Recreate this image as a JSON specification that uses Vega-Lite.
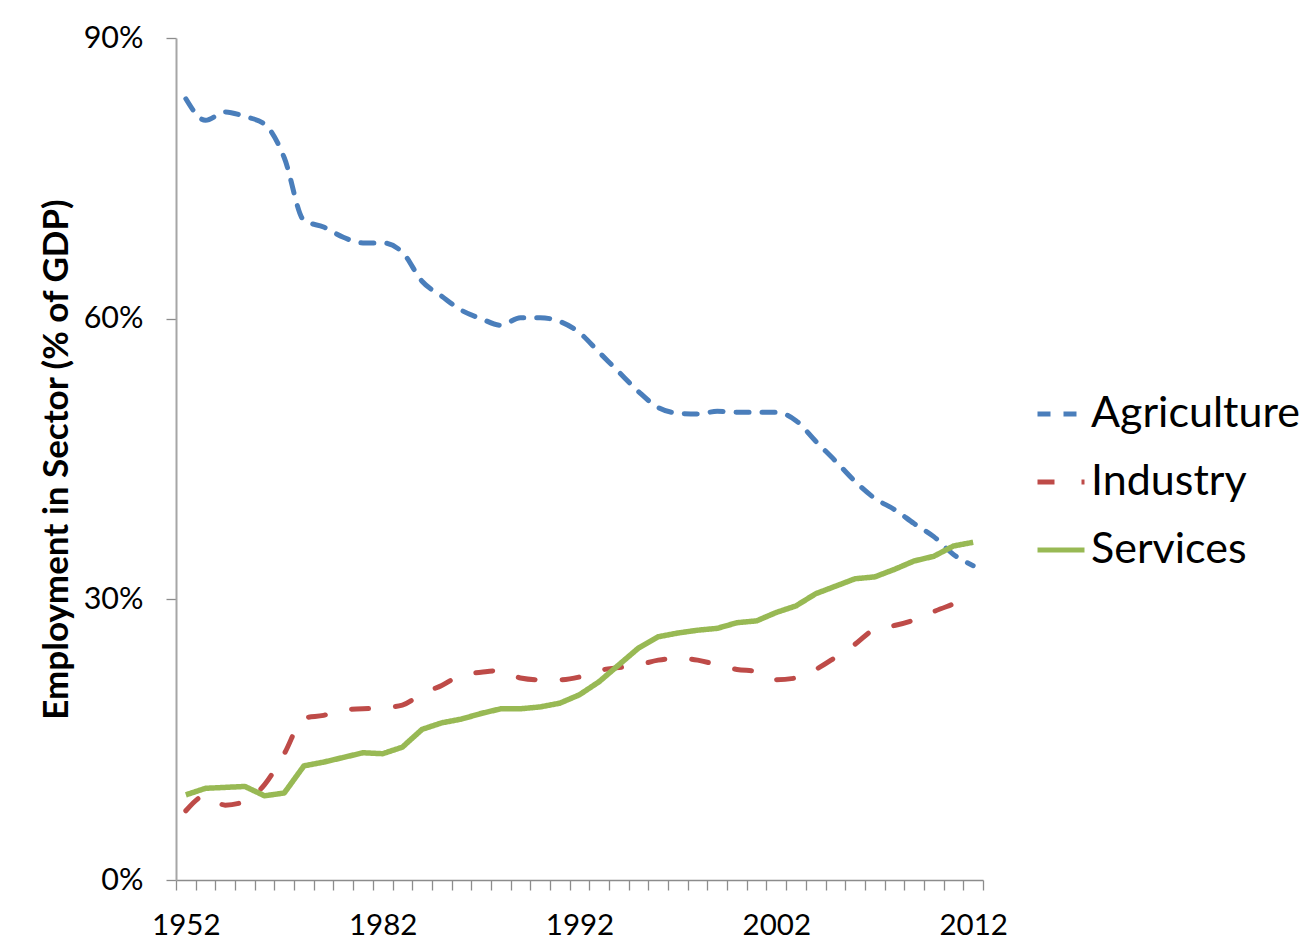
{
  "$schema": "https://vega.github.io/schema/vega-lite/v6.json",
  "autosize": "none",
  "width": 807,
  "height": 842,
  "padding": {"left": 176, "top": 38, "right": 321, "bottom": 71},
  "background": "white",
  "config": {
    "view": {"stroke": null},
    "font": "Lato"
  },
  "data": {"values": [
    {"year":"1952","sector":"Agriculture","share":83.5},{"year":"1957","sector":"Agriculture","share":81.2},{"year":"1962","sector":"Agriculture","share":82.1},{"year":"1965","sector":"Agriculture","share":81.6},{"year":"1970","sector":"Agriculture","share":80.8},{"year":"1975","sector":"Agriculture","share":77.2},{"year":"1978","sector":"Agriculture","share":70.5},{"year":"1979","sector":"Agriculture","share":69.8},{"year":"1980","sector":"Agriculture","share":68.7},{"year":"1981","sector":"Agriculture","share":68.1},
    {"year":"1982","sector":"Agriculture","share":68.1},{"year":"1983","sector":"Agriculture","share":67.1},{"year":"1984","sector":"Agriculture","share":64.0},{"year":"1985","sector":"Agriculture","share":62.4},{"year":"1986","sector":"Agriculture","share":60.9},{"year":"1987","sector":"Agriculture","share":60.0},{"year":"1988","sector":"Agriculture","share":59.3},{"year":"1989","sector":"Agriculture","share":60.1},{"year":"1990","sector":"Agriculture","share":60.1},{"year":"1991","sector":"Agriculture","share":59.7},
    {"year":"1992","sector":"Agriculture","share":58.5},{"year":"1993","sector":"Agriculture","share":56.4},{"year":"1994","sector":"Agriculture","share":54.3},{"year":"1995","sector":"Agriculture","share":52.2},{"year":"1996","sector":"Agriculture","share":50.5},{"year":"1997","sector":"Agriculture","share":49.9},{"year":"1998","sector":"Agriculture","share":49.8},{"year":"1999","sector":"Agriculture","share":50.1},{"year":"2000","sector":"Agriculture","share":50.0},{"year":"2001","sector":"Agriculture","share":50.0},
    {"year":"2002","sector":"Agriculture","share":50.0},{"year":"2003","sector":"Agriculture","share":49.1},{"year":"2004","sector":"Agriculture","share":46.9},{"year":"2005","sector":"Agriculture","share":44.8},{"year":"2006","sector":"Agriculture","share":42.6},{"year":"2007","sector":"Agriculture","share":40.8},{"year":"2008","sector":"Agriculture","share":39.6},{"year":"2009","sector":"Agriculture","share":38.1},{"year":"2010","sector":"Agriculture","share":36.7},{"year":"2011","sector":"Agriculture","share":34.8},{"year":"2012","sector":"Agriculture","share":33.6},
    {"year":"1952","sector":"Industry","share":7.4},{"year":"1957","sector":"Industry","share":9.0},{"year":"1962","sector":"Industry","share":8.0},{"year":"1965","sector":"Industry","share":8.4},{"year":"1970","sector":"Industry","share":10.2},{"year":"1975","sector":"Industry","share":13.5},{"year":"1978","sector":"Industry","share":17.3},{"year":"1979","sector":"Industry","share":17.6},{"year":"1980","sector":"Industry","share":18.2},{"year":"1981","sector":"Industry","share":18.3},
    {"year":"1982","sector":"Industry","share":18.4},{"year":"1983","sector":"Industry","share":18.7},{"year":"1984","sector":"Industry","share":19.9},{"year":"1985","sector":"Industry","share":20.8},{"year":"1986","sector":"Industry","share":21.9},{"year":"1987","sector":"Industry","share":22.2},{"year":"1988","sector":"Industry","share":22.4},{"year":"1989","sector":"Industry","share":21.6},{"year":"1990","sector":"Industry","share":21.4},{"year":"1991","sector":"Industry","share":21.4},
    {"year":"1992","sector":"Industry","share":21.7},{"year":"1993","sector":"Industry","share":22.4},{"year":"1994","sector":"Industry","share":22.7},{"year":"1995","sector":"Industry","share":23.0},{"year":"1996","sector":"Industry","share":23.5},{"year":"1997","sector":"Industry","share":23.7},{"year":"1998","sector":"Industry","share":23.5},{"year":"1999","sector":"Industry","share":23.0},{"year":"2000","sector":"Industry","share":22.5},{"year":"2001","sector":"Industry","share":22.3},
    {"year":"2002","sector":"Industry","share":21.4},{"year":"2003","sector":"Industry","share":21.6},{"year":"2004","sector":"Industry","share":22.5},{"year":"2005","sector":"Industry","share":23.8},{"year":"2006","sector":"Industry","share":25.2},{"year":"2007","sector":"Industry","share":26.8},{"year":"2008","sector":"Industry","share":27.2},{"year":"2009","sector":"Industry","share":27.8},{"year":"2010","sector":"Industry","share":28.7},{"year":"2011","sector":"Industry","share":29.5},{"year":"2012","sector":"Industry","share":30.3},
    {"year":"1952","sector":"Services","share":9.1},{"year":"1957","sector":"Services","share":9.8},{"year":"1962","sector":"Services","share":9.9},{"year":"1965","sector":"Services","share":10.0},{"year":"1970","sector":"Services","share":9.0},{"year":"1975","sector":"Services","share":9.3},{"year":"1978","sector":"Services","share":12.2},{"year":"1979","sector":"Services","share":12.6},{"year":"1980","sector":"Services","share":13.1},{"year":"1981","sector":"Services","share":13.6},
    {"year":"1982","sector":"Services","share":13.5},{"year":"1983","sector":"Services","share":14.2},{"year":"1984","sector":"Services","share":16.1},{"year":"1985","sector":"Services","share":16.8},{"year":"1986","sector":"Services","share":17.2},{"year":"1987","sector":"Services","share":17.8},{"year":"1988","sector":"Services","share":18.3},{"year":"1989","sector":"Services","share":18.3},{"year":"1990","sector":"Services","share":18.5},{"year":"1991","sector":"Services","share":18.9},
    {"year":"1992","sector":"Services","share":19.8},{"year":"1993","sector":"Services","share":21.2},{"year":"1994","sector":"Services","share":23.0},{"year":"1995","sector":"Services","share":24.8},{"year":"1996","sector":"Services","share":26.0},{"year":"1997","sector":"Services","share":26.4},{"year":"1998","sector":"Services","share":26.7},{"year":"1999","sector":"Services","share":26.9},{"year":"2000","sector":"Services","share":27.5},{"year":"2001","sector":"Services","share":27.7},
    {"year":"2002","sector":"Services","share":28.6},{"year":"2003","sector":"Services","share":29.3},{"year":"2004","sector":"Services","share":30.6},{"year":"2005","sector":"Services","share":31.4},{"year":"2006","sector":"Services","share":32.2},{"year":"2007","sector":"Services","share":32.4},{"year":"2008","sector":"Services","share":33.2},{"year":"2009","sector":"Services","share":34.1},{"year":"2010","sector":"Services","share":34.6},{"year":"2011","sector":"Services","share":35.7},{"year":"2012","sector":"Services","share":36.1}
  ]},
  "encoding": {
    "x": {
      "field": "year", "type": "ordinal", "sort": null, "bandPosition": 0.5,
      "scale": {"type": "band", "paddingInner": 0, "paddingOuter": 0},
      "axis": {
        "title": null, "tickBand": "extent", "grid": false,
        "domainColor": "#8c8c8c", "domainWidth": 1.5,
        "tickColor": "#8c8c8c", "tickWidth": 1.3, "tickSize": 10,
        "labelFont": "Lato", "labelFontSize": 29.5, "labelColor": "black",
        "labelPadding": 21, "labelAngle": 0, "labelOverlap": false, "labelBound": false, "labelFlush": false,
        "labelExpr": "indexof(['1952','1982','1992','2002','2012'], datum.value) >= 0 ? datum.value : ''"
      }
    },
    "y": {
      "field": "share", "type": "quantitative",
      "scale": {"domain": [0, 90], "nice": false, "zero": true},
      "axis": {
        "values": [0, 30, 60, 90], "grid": false,
        "domainColor": "#a6a6a6", "domainWidth": 2,
        "tickColor": "#8c8c8c", "tickWidth": 1.3, "tickSize": 10,
        "labelFont": "Lato", "labelFontSize": 30.5, "labelColor": "black", "labelPadding": 23,
        "labelExpr": "datum.value + '%'",
        "title": "Employment in Sector (% of GDP)",
        "titleFont": "Lato", "titleFontSize": 35, "titleFontWeight": "bold", "titleColor": "black",
        "titlePadding": 9
      }
    },
    "color": {
      "field": "sector", "type": "nominal", "title": null,
      "scale": {"domain": ["Agriculture", "Industry", "Services"], "range": ["#4A7EBB", "#BE4B48", "#98B954"]},
      "legend": {
        "orient": "none", "legendX": 859, "legendY": 350, "padding": 0,
        "symbolType": "stroke", "symbolSize": 2209, "symbolStrokeWidth": 5,
        "labelFont": "Lato", "labelFontSize": 43, "labelColor": "black", "labelOffset": 4,
        "rowPadding": 20, "labelLimit": 400
      }
    },
    "strokeDash": {
      "field": "sector", "type": "nominal", "title": null,
      "scale": {"domain": ["Agriculture", "Industry", "Services"], "range": [[13, 13], [17, 27], [1, 0]]},
      "legend": {
        "orient": "none", "legendX": 859, "legendY": 350, "padding": 0,
        "symbolType": "stroke", "symbolSize": 2209, "symbolStrokeWidth": 5,
        "labelFont": "Lato", "labelFontSize": 43, "labelColor": "black", "labelOffset": 4,
        "rowPadding": 20, "labelLimit": 400
      }
    }
  },
  "layer": [
    {
      "transform": [{"filter": "datum.sector != 'Services'"}],
      "mark": {"type": "line", "interpolate": "monotone", "strokeWidth": 5, "strokeCap": "round", "strokeJoin": "round"}
    },
    {
      "transform": [{"filter": "datum.sector == 'Services'"}],
      "mark": {"type": "line", "strokeWidth": 5.5, "strokeCap": "butt", "strokeJoin": "round"}
    }
  ]
}
